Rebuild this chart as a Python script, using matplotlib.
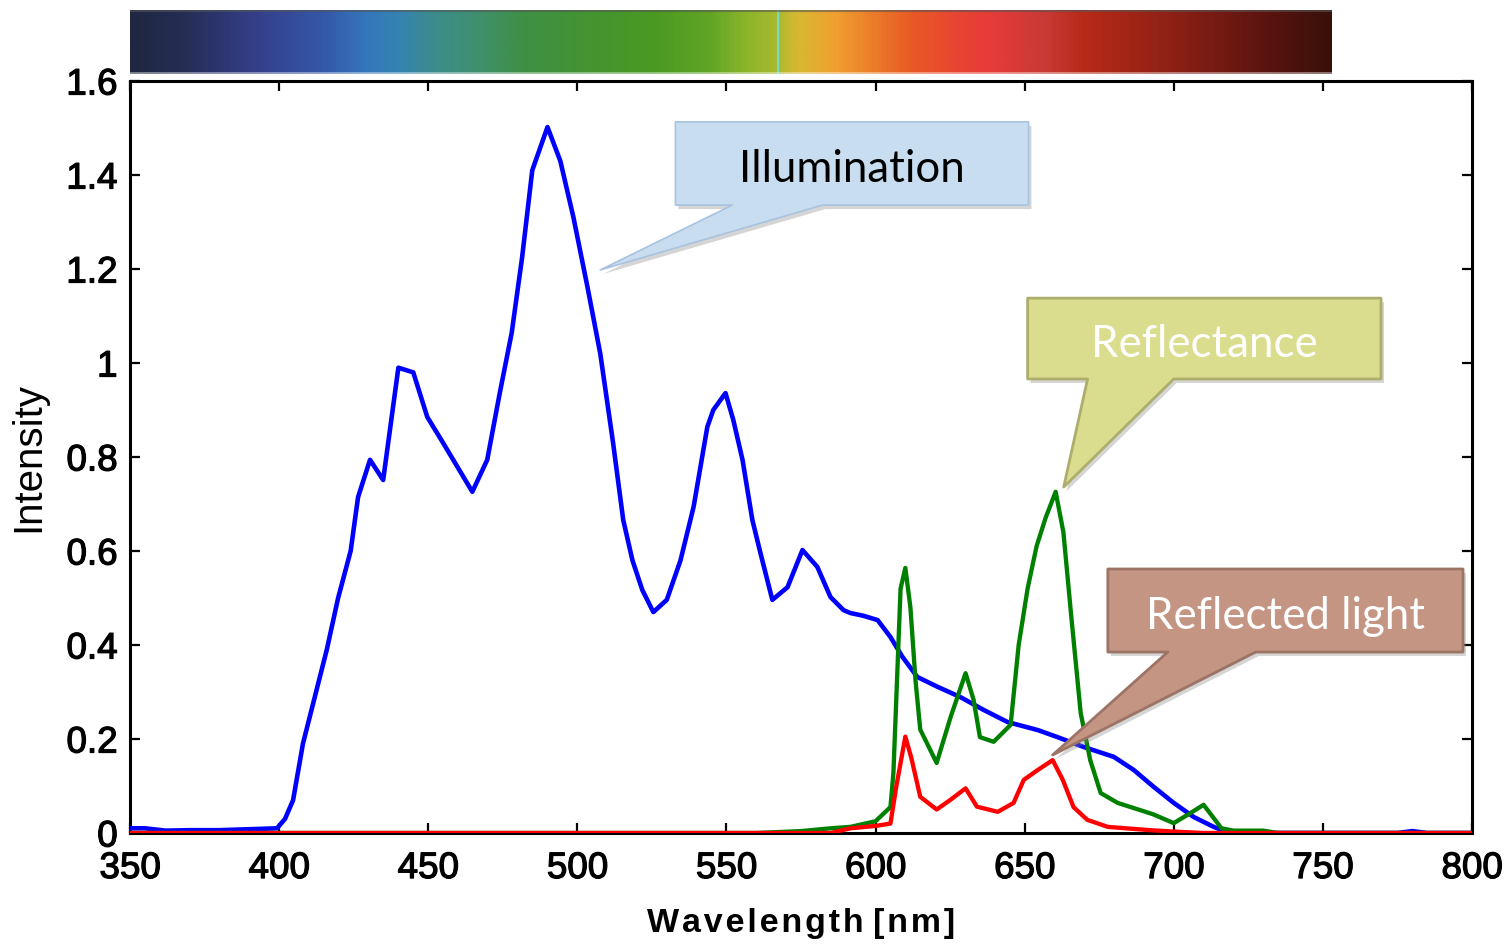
import numpy as np
import matplotlib
matplotlib.use("Agg")
import matplotlib.pyplot as plt
from matplotlib.colors import LinearSegmentedColormap
from matplotlib.patches import Polygon
import matplotlib.transforms as mtransforms
import matplotlib.patheffects as pe

# illumination spectrum
blue_nm = [350, 355, 362, 370, 380, 390, 399.3, 402, 404.7, 408, 412, 416, 419.8, 424,
           426.5, 430.5, 434.9, 440, 445, 449.7, 455, 464.8, 469.8, 474, 478, 481.5,
           484.9, 490, 494.3, 498.7, 503.4, 507.7, 512, 515.4, 518.5, 521.8, 525.5, 530,
           534.6, 539, 543.6, 545.6, 549.7, 552.3, 555.4, 558.7, 561.4, 565.4, 570.5,
           575.5, 580.5, 584.9, 589.3, 591.6, 596, 600.7, 605, 609, 614, 620.8, 628.5,
           636.2, 644.3, 654.4, 661, 669.8, 679.9, 686.6, 693.3, 700, 706.7, 713.4,
           716.7, 720, 760, 775, 780, 785, 800]
blue_val = [0.01, 0.01, 0.005, 0.006, 0.006, 0.008, 0.01, 0.03, 0.07, 0.19, 0.29, 0.39,
            0.50, 0.60, 0.715, 0.794, 0.751, 0.99, 0.98, 0.885, 0.83, 0.726, 0.794, 0.936,
            1.064, 1.225, 1.41, 1.502, 1.43, 1.31, 1.162, 1.02, 0.83, 0.666, 0.58, 0.517,
            0.47, 0.496, 0.58, 0.694, 0.864, 0.90, 0.936, 0.879, 0.794, 0.666, 0.596,
            0.496, 0.523, 0.602, 0.566, 0.502, 0.474, 0.468, 0.462, 0.453, 0.417, 0.375,
            0.332, 0.311, 0.289, 0.262, 0.236, 0.219, 0.204, 0.183, 0.162, 0.134, 0.098,
            0.064, 0.034, 0.013, 0.005, 0.0, 0.0, 0.0, 0.004, 0.0, 0.0]

# reflectance of the sample
green_nm = [350, 560, 575, 585, 591.6, 600, 605, 606, 608.4, 610, 611.7, 613.4, 615,
            620.5, 625.2, 630.2, 632.9, 635, 639.6, 645.3, 648, 651, 654, 657, 660.4,
            663, 665.5, 668.8, 672, 675.5, 681.2, 686.6, 693, 700, 705, 710, 713, 716,
            720, 730, 735, 800]
green_val = [0.0, 0.0, 0.004, 0.01, 0.013, 0.025, 0.055, 0.128, 0.52, 0.564, 0.48, 0.325,
             0.22, 0.149, 0.247, 0.34, 0.283, 0.204, 0.194, 0.23, 0.40, 0.52, 0.61, 0.67,
             0.726, 0.64, 0.47, 0.255, 0.155, 0.085, 0.064, 0.053, 0.04, 0.021, 0.04,
             0.06, 0.035, 0.01, 0.005, 0.005, 0.0, 0.0]

# reflected light = illumination x reflectance
red_nm = [350, 585, 591.6, 600, 605, 607, 610, 612, 615, 620.5, 625, 630.2, 634, 641,
          646.3, 649.7, 654.4, 659.4, 662.8, 666.4, 671, 677.9, 692, 700, 710, 800]
red_val = [0.0, 0.0, 0.01, 0.015, 0.02, 0.1, 0.205, 0.16, 0.077, 0.05, 0.07, 0.095,
           0.056, 0.045, 0.064, 0.113, 0.134, 0.155, 0.113, 0.055, 0.028, 0.013, 0.006,
           0.003, 0.0, 0.0]

x_ticks = [350, 400, 450, 500, 550, 600, 650, 700, 750, 800]
y_ticks = [0, 0.2, 0.4, 0.6, 0.8, 1.0, 1.2, 1.4, 1.6]
y_tick_labels = ["0", "0.2", "0.4", "0.6", "0.8", "1", "1.2", "1.4", "1.6"]

# spectrum strip along the top
strip_pos = [0.0, 0.042, 0.103, 0.158, 0.196, 0.225, 0.251, 0.287, 0.326, 0.391, 0.438,
             0.483, 0.512, 0.537, 0.556, 0.587, 0.616, 0.651, 0.690, 0.721, 0.763, 0.794,
             0.874, 0.940, 1.0]
strip_colors = ["#1f2742", "#262d55", "#343f8a", "#3557a8", "#3477bb", "#3584b0",
                "#3c8c8c", "#3f9070", "#3f8f45", "#45952e", "#4b9a22", "#62a525",
                "#8ab52a", "#a8b830", "#d8b830", "#f0a030", "#ec7f2a", "#e85a25",
                "#e84432", "#e53a3a", "#c83a35", "#b82a18", "#8a2015", "#601510",
                "#3a100a"]

fig = plt.figure(figsize=(15.06, 9.44), dpi=100)
ax = fig.add_axes([0.0863, 0.1176, 0.8911, 0.7966])

ax.plot(blue_nm, blue_val, color="#0000ff", lw=3.3, zorder=3)
ax.plot(green_nm, green_val, color="#008000", lw=3.1, zorder=4)
ax.plot(red_nm, red_val, color="#ff0000", lw=3.1, zorder=5)

ax.set_xlim(350, 800)
ax.set_ylim(0, 1.6)
ax.set_xticks(x_ticks)
ax.set_yticks(y_ticks)
ax.set_yticklabels(y_tick_labels)
heavy = [pe.withStroke(linewidth=0.9, foreground="black")]
for lab in ax.get_xticklabels() + ax.get_yticklabels():
    lab.set_fontfamily("Liberation Sans")
    lab.set_fontsize(26.5)
    lab.set_path_effects(heavy)
ax.tick_params(direction="in", length=7, width=1.6, top=True, right=True)
ax.tick_params(axis="x", pad=13)
ax.tick_params(axis="y", pad=9)
for sp in ax.spines.values():
    sp.set_linewidth(2.2)

ax.set_xlabel("W\u200aa\u200av\u200ae\u200al\u200ae\u200an\u200ag\u200at\u200ah [\u200an\u200am\u200a]",
              fontfamily="Liberation Sans", fontweight="bold", fontsize=24.5, labelpad=16)
ax.set_ylabel("Intensity", fontfamily="Liberation Sans", fontsize=29, labelpad=14)

# colour strip
cax = fig.add_axes([0.0863, 0.9216, 0.798, 0.0678])
cmap = LinearSegmentedColormap.from_list("spec", list(zip(strip_pos, strip_colors)))
cax.imshow(np.linspace(0, 1, 600)[None, :], aspect="auto", cmap=cmap,
           extent=[0, 1, 0, 1])
cax.axvline(0.539, color="#6fe0c0", lw=1.5)
cax.axhline(0.985, color="#555555", lw=1.5, alpha=0.6)
cax.axhline(0.02, color="white", lw=2, alpha=0.45)
cax.set_axis_off()

text_shift = mtransforms.offset_copy(ax.transData, fig=fig, x=0, y=-6, units="dots")


def callout(box, tail, tip, text, face, edge, tcolor, lw):
    x0, x1, y0, y1 = box
    verts = [(x0, y1), (x1, y1), (x1, y0), (tail[1], y0), tip, (tail[0], y0), (x0, y0)]
    shadow = mtransforms.offset_copy(ax.transData, fig=fig, x=3, y=-4, units="dots")
    ax.add_patch(Polygon(verts, closed=True, fc="#888888", ec="none", alpha=0.35,
                         transform=shadow, clip_on=False, zorder=8))
    ax.add_patch(Polygon(verts, closed=True, fc=face, ec=edge, lw=lw,
                         clip_on=False, zorder=9, joinstyle="round"))
    ax.text((x0 + x1) / 2, (y0 + y1) / 2, text, ha="center", va="center",
            fontfamily="Lato", fontsize=31.5, color=tcolor, zorder=10,
            transform=text_shift)


callout((532.9, 651.3, 1.336, 1.513), (552.0, 582.2), (507.7, 1.198),
        "Illumination", "#c9ddf0", "#a8c3df", "black", 1.2)
callout((651.0, 769.5, 0.966, 1.138), (671.1, 700.0), (663.1, 0.736),
        "Reflectance", "#dbdd8e", "#adae6c", "white", 2.0)
callout((677.9, 797.0, 0.385, 0.5617), (698.0, 727.5), (659.4, 0.166),
        "Reflected light", "#c59584", "#9c7465", "white", 2.0)

fig.savefig("out.png", dpi=100)
